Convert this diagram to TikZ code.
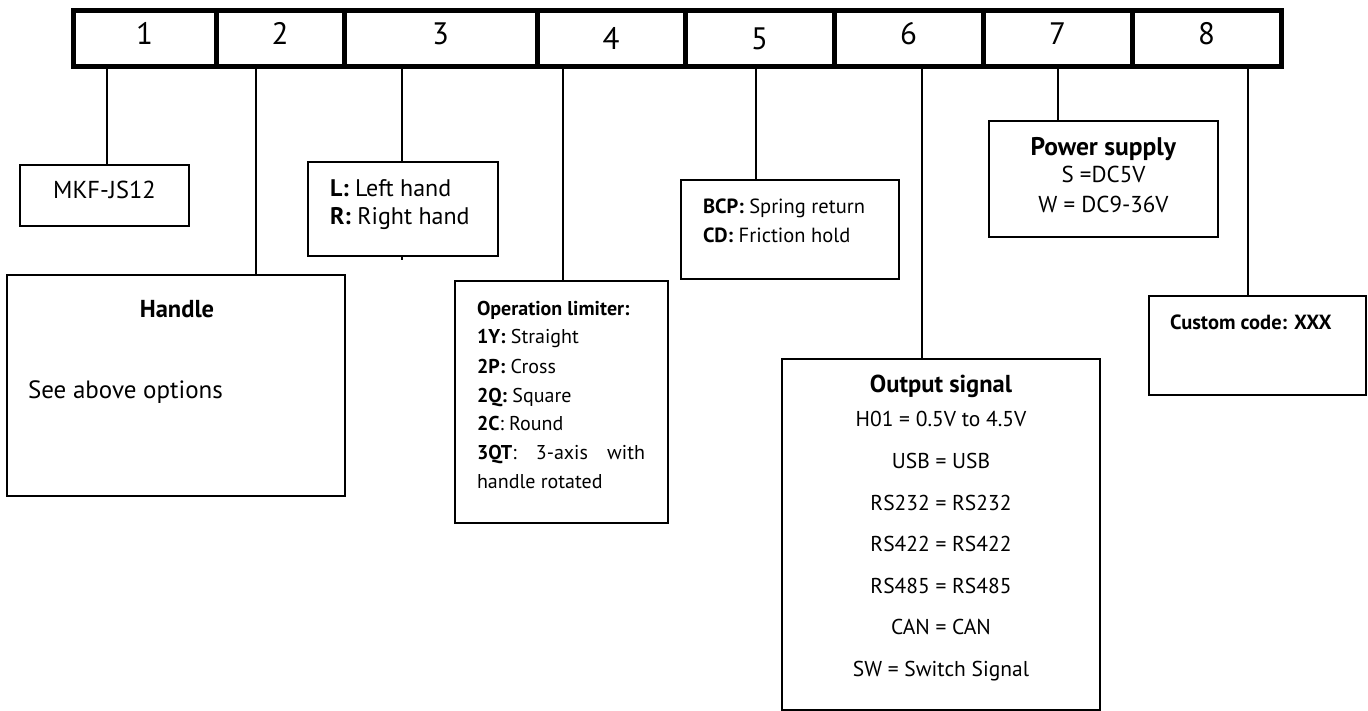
\documentclass[tikz,border=0pt]{standalone}
\usepackage{fontspec}
\setmainfont{PT Sans}
\begin{document}
\begin{tikzpicture}[x=1pt,y=-1pt,
  cell/.style={draw, line width=5pt, inner sep=0pt, outer sep=0pt, minimum height=56pt},
  box/.style={draw, line width=2.6pt, inner sep=0pt, outer sep=0pt},
  link/.style={line width=2.4pt},
  num/.style={inner sep=0pt, anchor=base, font=\fontsize{31}{36}\selectfont},
  lbl/.style={inner sep=0pt, outer sep=0pt, font=\fontsize{#1}{#1}\selectfont},
]
\useasboundingbox (0,0) rectangle (1368,711);

% top code bar
\node[cell, minimum width=143pt] (k1) at (144.5,38.5) {};
\node[cell, minimum width=128pt] (k2) at (280,38.5) {};
\node[cell, minimum width=193pt] (k3) at (440.5,38.5) {};
\node[cell, minimum width=148pt] (k4) at (611,38.5) {};
\node[cell, minimum width=149pt] (k5) at (759.5,38.5) {};
\node[cell, minimum width=149pt] (k6) at (908.5,38.5) {};
\node[cell, minimum width=149pt] (k7) at (1057.5,38.5) {};
\node[cell, minimum width=149pt] (k8) at (1206.5,38.5) {};

\node[num] (n1) at (144.5,45) {1};
\node[num] (n2) at (280,45) {2};
\node[num] (n3) at (440.5,45) {3};
\node[num] (n4) at (611,50) {4};
\node[num] (n5) at (759.5,50) {5};
\node[num] (n6) at (908.5,45) {6};
\node[num] (n7) at (1057.5,45) {7};
\node[num] (n8) at (1206.5,45) {8};

% boxes
\node[box, minimum width=169pt, minimum height=61pt] (mkf) at (104.5,195.5) {};
\node[box, minimum width=338pt, minimum height=221pt] (hdl) at (176,385.5) {};
\node[box, minimum width=190pt, minimum height=94pt] (lr) at (403,209) {};
\node[box, minimum width=213pt, minimum height=242pt] (op) at (561.5,402) {};
\node[box, minimum width=218pt, minimum height=99pt] (bcp) at (790,229.5) {};
\node[box, minimum width=318pt, minimum height=351pt] (out) at (941,534.5) {};
\node[box, minimum width=229pt, minimum height=116pt] (pow) at (1103.5,179) {};
\node[box, minimum width=217pt, minimum height=99pt] (cus) at (1257.5,345.5) {};

% connector start points on the bar
\coordinate (p1) at (107,66.5);
\coordinate (p2) at (256,66.5);
\coordinate (p3) at (402,66.5);
\coordinate (p4) at (563,66.5);
\coordinate (p5) at (756,66.5);
\coordinate (p6) at (922,66.5);
\coordinate (p7) at (1058,66.5);
\coordinate (p8) at (1248,66.5);

\draw[link] (p1) -- (p1 |- mkf.north);
\draw[link] (p2) -- (p2 |- hdl.north);
\draw[link] (p3) -- (p3 |- lr.north);
\draw[link] (p3 |- lr.south) -- ++(0,4);
\draw[link] (p4) -- (p4 |- op.north);
\draw[link] (p5) -- (p5 |- bcp.north);
\draw[link] (p6) -- (p6 |- out.north);
\draw[link] (p7) -- (p7 |- pow.north);
\draw[link] (p8) -- (p8 |- cus.north);

% texts
\node[lbl=24.5, anchor=base] (tmkf) at (104.5,199) {MKF-JS12};

\node[lbl=24, anchor=base west] (tl) at (330,197) {\textbf{L:} Left hand};
\node[lbl=24, anchor=base west] (tr) at (330,225) {\textbf{R:} Right hand};

\node[lbl=24.5, anchor=base] (th) at (177,317) {\textbf{Handle}};
\node[lbl=25, anchor=base west] (tsee) at (28,398) {See above options};

\node[lbl=20, anchor=base west] (o1) at (477,316) {\textbf{Operation limiter:}};
\node[lbl=20, anchor=base west] (o2) at (477,344) {\textbf{1Y:} Straight};
\node[lbl=20, anchor=base west] (o3) at (477,373) {\textbf{2P:} Cross};
\node[lbl=20, anchor=base west] (o4) at (477,402) {\textbf{2Q:} Square};
\node[lbl=20, anchor=base west] (o5) at (477,430) {\textbf{2C}: Round};
\node[lbl=20, anchor=base west] (o6) at (477,459) {\makebox[168pt][s]{\textbf{3QT}: 3-axis with}};
\node[lbl=20, anchor=base west] (o7) at (477,488) {handle rotated};

\node[lbl=20.5, anchor=base west] (b1) at (703,214) {\textbf{BCP:} Spring return};
\node[lbl=20.5, anchor=base west] (b2) at (703,243) {\textbf{CD:} Friction hold};

\node[lbl=25.5, anchor=base] (w1) at (1103.5,156) {\textbf{Power supply}};
\node[lbl=23, anchor=base] (w2) at (1103.5,183) {S =DC5V};
\node[lbl=23, anchor=base] (w3) at (1103.5,213) {W = DC9-36V};

\node[lbl=20.5, anchor=base west] (cc) at (1170,330) {\textbf{Custom code: XXX}};

\node[lbl=24.5, anchor=base] (s0) at (941,392) {\textbf{Output signal}};
\node[lbl=21.5, anchor=base] (s1) at (941,426) {H01 = 0.5V to 4.5V};
\node[lbl=21.5, anchor=base] (s2) at (941,468) {USB = USB};
\node[lbl=21.5, anchor=base] (s3) at (941,510) {RS232 = RS232};
\node[lbl=21.5, anchor=base] (s4) at (941,551) {RS422 = RS422};
\node[lbl=21.5, anchor=base] (s5) at (941,593) {RS485 = RS485};
\node[lbl=21.5, anchor=base] (s6) at (941,634) {CAN = CAN};
\node[lbl=21.5, anchor=base] (s7) at (941,676) {SW = Switch Signal};
\end{tikzpicture}
\end{document}
